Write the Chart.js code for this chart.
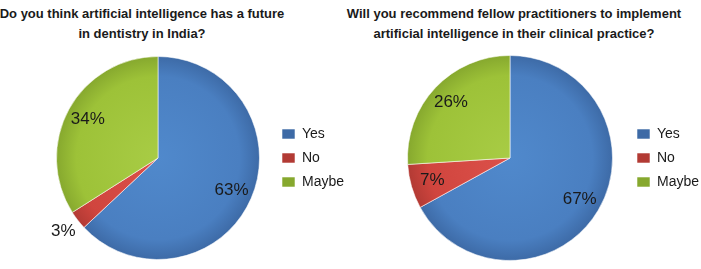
<!DOCTYPE html>
<html>
<head>
<meta charset="utf-8">
<script src="https://cdn.jsdelivr.net/npm/chart.js@4"></script>
<style>
  body { margin: 0; background: #fff; width: 701px; height: 269px; position: relative; overflow: hidden;
         font-family: "Liberation Sans", Arial, Helvetica, sans-serif; }
  .title { position: absolute; top: 4px; transform: translateX(-50%); white-space: pre; text-align: center;
           font-weight: bold; font-size: 13px; line-height: 20px; color: #1a1a1a; }
  .box { position: absolute; top: 0; height: 269px; }
</style>
</head>
<body>
<div class="title" style="left:142px">Do you think artificial intelligence has a future
in dentistry in India?</div>
<div class="title" style="left:514px">Will you recommend fellow practitioners to implement
artificial intelligence in their clinical practice?</div>
<div class="box" style="left:0;width:354px"><canvas id="futureChart"></canvas></div>
<div class="box" style="left:350px;width:359px"><canvas id="recommendChart"></canvas></div>
<script>
// data
const categories = ['Yes', 'No', 'Maybe'];
const futureValues = [63, 3, 34];
const recommendValues = [67, 7, 26];
const sliceColors = ['#4a7fc1', '#d0453e', '#9dc238'];
const sliceLight = ['#5089cc', '#dc514a', '#a8cc45'];
const sliceDark = ['#3d6aa6', '#b23a34', '#86a82e'];

// radial shading, a bit like the office pie
function shade(ctx) {
    const i = ctx.dataIndex;
    const area = ctx.chart.chartArea;
    if (!area) return sliceColors[i];
    const cx = (area.left + area.right) / 2;
    const cy = (area.top + area.bottom) / 2;
    const r = Math.min(area.width, area.height) / 2;
    const g = ctx.chart.ctx.createRadialGradient(cx, cy, 0, cx, cy, r);
    g.addColorStop(0, sliceLight[i]);
    g.addColorStop(0.8, sliceColors[i]);
    g.addColorStop(1, sliceDark[i]);
    return g;
}

// percentage labels, small slices go outside
const pctLabels = {
    id: 'pctLabels',
    afterDatasetsDraw(chart) {
        const ctx = chart.ctx;
        const meta = chart.getDatasetMeta(0);
        const values = chart.data.datasets[0].data;
        ctx.save();
        ctx.font = '17px "Liberation Sans", Arial, sans-serif';
        ctx.fillStyle = '#1a1a1a';
        ctx.textAlign = 'center';
        ctx.textBaseline = 'middle';
        meta.data.forEach((arc, i) => {
            const p = arc.getProps(['x', 'y', 'startAngle', 'endAngle', 'outerRadius'], true);
            const mid = (p.startAngle + p.endAngle) / 2;
            const k = values[i] < 5 ? 1.18 : 0.79;
            ctx.fillText(values[i] + '%', p.x + Math.cos(mid) * p.outerRadius * k, p.y + Math.sin(mid) * p.outerRadius * k);
        });
        ctx.restore();
    }
};

function makePie(id, values, padding) {
    new Chart(document.getElementById(id), {
        type: 'pie',
        data: {
            labels: categories,
            datasets: [{
                data: values,
                backgroundColor: shade,
                borderColor: 'rgba(255,255,255,0.55)',
                borderWidth: 1
            }]
        },
        options: {
            responsive: true,
            maintainAspectRatio: false,
            animation: false,
            layout: { padding: padding },
            plugins: {
                tooltip: { enabled: false },
                title: { display: false },
                legend: {
                    position: 'right',
                    maxWidth: 82,
                    labels: {
                        color: '#1a1a1a',
                        boxWidth: 13,
                        boxHeight: 10,
                        padding: 10,
                        font: { size: 14, family: '"Liberation Sans", Arial, sans-serif' }
                    }
                }
            }
        },
        plugins: [pctLabels]
    });
}

makePie('futureChart', futureValues, { left: 44, top: 56, bottom: 9, right: 0 });
makePie('recommendChart', recommendValues, { left: 43, top: 55, bottom: 8, right: 0 });
</script>
</body>
</html>
